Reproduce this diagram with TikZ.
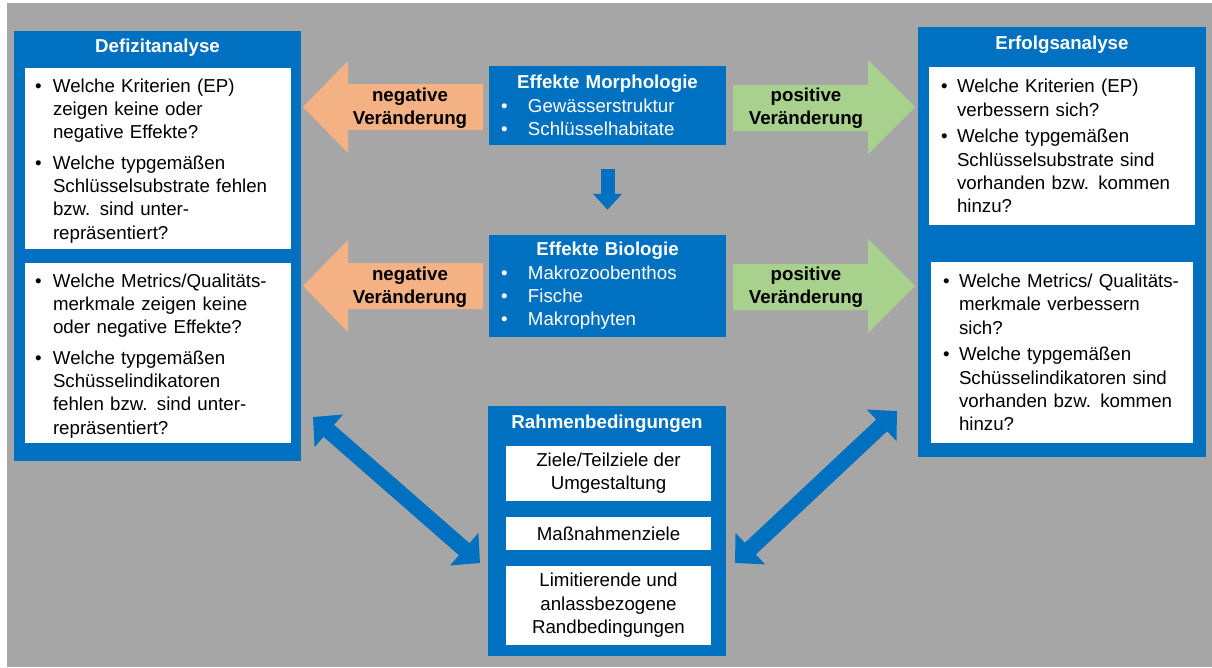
\documentclass[tikz,border=0pt]{standalone}
\usepackage{fontspec}
\setmainfont{Liberation Sans}
\usepackage{tikz}
\usetikzlibrary{arrows.meta,positioning,calc}

\definecolor{hgblue}{HTML}{0070C0}
\definecolor{hggrey}{HTML}{A6A6A6}
\definecolor{negorange}{HTML}{F4B183}
\definecolor{posgreen}{HTML}{A9D18E}

\newcommand{\textsz}{\fontsize{18.7}{23.3}\selectfont}
\newcommand{\bul}[2][18pt]{\noindent\makebox[#1][l]{\textbullet}\parbox[t]{\dimexpr\linewidth-#1\relax}{#2}\par}
\newcommand{\itemgap}{\vspace{12pt}}
\newcommand{\ebul}{\makebox[27pt][l]{\textbullet}}

\begin{document}
\begin{tikzpicture}[x=1pt,y=-1pt,node distance=16pt,
  blue box/.style={rectangle,fill=hgblue,inner sep=0pt},
  white box/.style={rectangle,fill=white,inner ysep=0pt,align=left,font=\textsz},
  effect box/.style={rectangle,fill=hgblue,text=white,inner ysep=0pt,inner xsep=12pt,
    align=left,font=\textsz,text width=213pt,minimum width=237pt},
  frame item/.style={rectangle,fill=white,inner sep=0pt,align=center,font=\textsz,
    minimum width=205pt},
  title node/.style={text=white,font=\textsz\bfseries,inner sep=0pt},
  change label/.style={align=center,font=\textsz\bfseries,inner sep=0pt},
  big arrow/.style={hgblue,line width=16pt,{Triangle[width=42pt,length=21pt]}-{Triangle[width=42pt,length=21pt]}}]

  \useasboundingbox (0,0) rectangle (1212,667);
  \fill[white] (0,0) rectangle (1212,667);
  \fill[hggrey] (7,3) rectangle (1212,667);

  % Defizitanalyse
  \node[blue box,minimum width=287pt,minimum height=430pt] (defizit) at (157.5,246) {};
  \node[title node] (defizittitel) at (157.5,48) {Defizitanalyse};
  \node[white box,inner xsep=10pt,text width=246pt,minimum width=266pt,minimum height=181pt]
    (defA) at (158,158) {%
    \vspace*{-4pt}
    \bul{Welche Kriterien (EP)\\zeigen keine oder\\negative Effekte?}\itemgap
    \bul{Welche typgemäßen\\Schlüsselsubstrate fehlen\\bzw. sind unter-\\repräsentiert?}};
  \node[white box,inner xsep=10pt,text width=246pt,minimum width=266pt,minimum height=180pt]
    (defB) at (158,353) {%
    \vspace*{-4pt}
    \bul{Welche Metrics/Qualitäts-\\merkmale zeigen keine\\oder negative Effekte?}\itemgap
    \bul{Welche typgemäßen\\Schüsselindikatoren\\fehlen bzw. sind unter-\\repräsentiert?}};

  % Erfolgsanalyse
  \node[blue box,minimum width=288pt,minimum height=430pt] (erfolg) at (1062,242) {};
  \node[title node] (erfolgtitel) at (1062,45) {Erfolgsanalyse};
  \node[white box,inner xsep=12pt,text width=242pt,minimum width=266pt,minimum height=158pt]
    (erfA) at (1062,146) {%
    \bul[16pt]{Welche Kriterien (EP)\\verbessern sich?}\itemgap
    \bul[16pt]{Welche typgemäßen\\Schlüsselsubstrate sind\\vorhanden bzw. kommen\\hinzu?}};
  \node[white box,inner xsep=12pt,text width=238pt,minimum width=262pt,minimum height=181pt]
    (erfB) at (1062,352.5) {%
    \bul[16pt]{Welche Metrics/ Qualitäts-\\merkmale verbessern\\sich?}\itemgap
    \bul[16pt]{Welche typgemäßen\\Schüsselindikatoren sind\\vorhanden bzw. kommen\\hinzu?}};

  % Effekte
  \node[effect box,minimum height=79pt] (morph) at (607.5,105.5)
    {\makebox[\linewidth]{\bfseries Effekte Morphologie}\\
     \ebul Gewässerstruktur\\ \ebul Schlüsselhabitate};
  \node[effect box,minimum height=102pt] (bio) at (607.5,286)
    {\makebox[\linewidth]{\bfseries Effekte Biologie}\\
     \ebul Makrozoobenthos\\ \ebul Fische\\ \ebul Makrophyten};
  \draw[hgblue,line width=14pt,-{Triangle[width=28pt,length=16pt]},
    shorten <=24pt,shorten >=25pt] (morph) -- (bio);

  % Veraenderungen
  \foreach \dy/\nm in {0/morph,179/bio}{
    \begin{scope}[shift={(0,\dy)}]
      \fill[negorange] (303,107) -- (348,61) -- (348,84) -- (483,84)
        -- (483,130) -- (348,130) -- (348,153) -- cycle;
      \fill[posgreen] (733,85) -- (868,85) -- (868,60) -- (915,107)
        -- (868,154) -- (868,131) -- (733,131) -- cycle;
      \node[change label] (neg-\nm) at (410,108) {negative\\Veränderung};
      \node[change label] (pos-\nm) at (806,108) {positive\\Veränderung};
    \end{scope}
  }

  % Rahmenbedingungen
  \node[blue box,minimum width=238pt,minimum height=250pt] (rahmen) at (607,531) {};
  \node[title node] (rahmentitel) at (607,424) {Rahmenbedingungen};
  \node[frame item,minimum height=55pt] (ziele) at (608.5,473.5)
    {Ziele/Teilziele der\\Umgestaltung};
  \node[frame item,minimum height=33pt,below=16pt of ziele] (massnahmen) {Maßnahmenziele};
  \node[frame item,minimum height=79pt,below=15pt of massnahmen] (limits)
    {Limitierende und\\anlassbezogene\\Randbedingungen};

  \coordinate (linksoben) at (313,417);
  \coordinate (linksunten) at (480,563);
  \coordinate (rechtsoben) at (897,411);
  \coordinate (rechtsunten) at (735,563);
  \draw[big arrow] (linksoben) -- (linksunten);
  \draw[big arrow] (rechtsoben) -- (rechtsunten);
\end{tikzpicture}
\end{document}
